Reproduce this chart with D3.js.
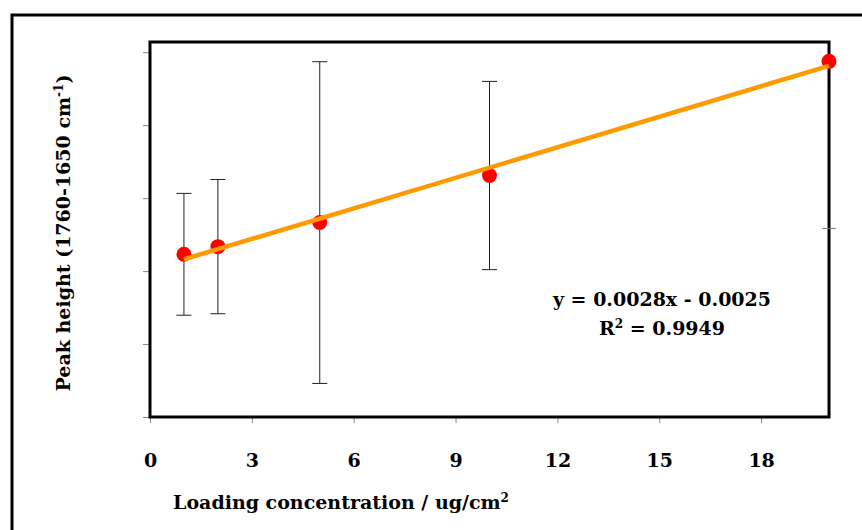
<!DOCTYPE html>
<html>
<head>
<meta charset="utf-8">
<script src="https://cdn.jsdelivr.net/npm/d3@7"></script>
<style>
  body { margin: 0; background: #fff; }
  text { font-family: "DejaVu Serif", serif; font-weight: bold; fill: #000; }
</style>
</head>
<body>
<div id="chart"></div>
<script>
// data
const loading = [1, 2, 5, 10, 20]
const peakHeight = [0.0046, 0.0067, 0.0133, 0.0262, 0.0575]
const peakError = [0.0167, 0.0184, 0.0441, 0.0258, 0]
const xTicks = [0, 3, 6, 9, 12, 15, 18]
const yTicks = [-0.04, -0.02, 0, 0.02, 0.04, 0.06]
const rightTicks = [0.0117]
const equationLines = ["y = 0.0028x - 0.0025", "R", " = 0.9949"]

const margin = { top: 42, left: 150, right: 33, bot: 113 }
const sizing = { width: 862, height: 530 }
const plotW = sizing.width - margin.left - margin.right
const plotH = sizing.height - margin.top - margin.bot
const fontSize = "19px"
const supSize = "12px"

const data = loading.map((d, i) => ({ x: d, y: peakHeight[i], err: peakError[i] }))

const svg = d3.select("#chart").append("svg")
    .attr("width", sizing.width)
    .attr("height", sizing.height)

// outer frame of the figure
svg.append("rect")
    .attr("x", 12).attr("y", 15)
    .attr("width", 900).attr("height", 600)
    .attr("fill", "none").attr("stroke", "#000").attr("stroke-width", 3)

const x = d3.scaleLinear().domain([0, 20]).range([0, plotW])
const y = d3.scaleLinear().domain([-0.04, 0.0628]).range([plotH, 0])

const g = svg.append("g").attr("transform", `translate(${margin.left},${margin.top})`)

// axes (ticks only, y has no labels)
const yAxis = g.append("g")
    .call(d3.axisLeft(y).tickValues(yTicks).tickFormat("").tickSize(7).tickSizeOuter(0))
yAxis.select(".domain").remove()
yAxis.selectAll("line").attr("stroke", "#888")

const xAxis = g.append("g")
    .attr("transform", `translate(0,${plotH})`)
    .call(d3.axisBottom(x).tickValues(xTicks).tickSize(6).tickSizeOuter(0))
xAxis.select(".domain").remove()
xAxis.selectAll("line").attr("stroke", "#888")
xAxis.selectAll("text")
    .attr("y", 50).attr("dy", 0)
    .style("font-family", "DejaVu Serif, serif")
    .style("font-weight", "bold")
    .style("font-size", fontSize)
    .attr("fill", "#000")

// plot frame
g.append("rect")
    .attr("width", plotW).attr("height", plotH)
    .attr("fill", "none").attr("stroke", "#000").attr("stroke-width", 3)

// odd tick on the right side
g.selectAll(".rtick").data(rightTicks).join("line")
    .attr("class", "rtick")
    .attr("x1", plotW - 7).attr("x2", plotW + 7)
    .attr("y1", d => y(d)).attr("y2", d => y(d))
    .attr("stroke", "#777").attr("stroke-width", 1)

// error bars
const bars = g.append("g").attr("stroke", "#222").attr("stroke-width", 1)
data.filter(d => d.err > 0).forEach(d => {
    bars.append("line")
        .attr("x1", x(d.x)).attr("x2", x(d.x))
        .attr("y1", y(d.y - d.err)).attr("y2", y(d.y + d.err))
    ;[d.y - d.err, d.y + d.err].forEach(v => {
        bars.append("line")
            .attr("x1", x(d.x) - 7.5).attr("x2", x(d.x) + 7.5)
            .attr("y1", y(v)).attr("y2", y(v))
    })
})

// points
g.append("g").selectAll("circle").data(data).join("circle")
    .attr("cx", d => x(d.x)).attr("cy", d => y(d.y))
    .attr("r", 7.5).attr("fill", "#ff0000")

// least squares trend line
const mx = d3.mean(data, d => d.x), my = d3.mean(data, d => d.y)
const slope = d3.sum(data, d => (d.x - mx) * (d.y - my)) / d3.sum(data, d => (d.x - mx) ** 2)
const icpt = my - slope * mx
const ext = d3.extent(loading)
g.append("path")
    .datum(ext)
    .attr("d", d3.line().x(d => x(d)).y(d => y(slope * d + icpt)))
    .attr("stroke", "#ff9900").attr("stroke-width", 4.5).attr("fill", "none")

// equation
g.append("text")
    .attr("x", 512).attr("y", 264)
    .attr("text-anchor", "middle")
    .style("font-size", fontSize)
    .text(equationLines[0])
const r2 = g.append("text")
    .attr("x", 512).attr("y", 293)
    .attr("text-anchor", "middle")
    .style("font-size", fontSize)
r2.append("tspan").text(equationLines[1])
r2.append("tspan").attr("dy", -7).style("font-size", supSize).text("2")
r2.append("tspan").attr("dy", 7).text(equationLines[2])

// axis titles
const xt = svg.append("text")
    .attr("x", 341).attr("y", 509)
    .attr("text-anchor", "middle")
    .style("font-size", fontSize)
xt.append("tspan").text("Loading concentration / ug/cm")
xt.append("tspan").attr("dy", -7).style("font-size", supSize).text("2")

const yt = svg.append("text")
    .attr("transform", "translate(70,233) rotate(-90)")
    .attr("text-anchor", "middle")
    .style("font-size", fontSize)
yt.append("tspan").text("Peak height (1760-1650 cm")
yt.append("tspan").attr("dy", -7).style("font-size", supSize).text("-1")
yt.append("tspan").attr("dy", 7).text(")")
</script>
</body>
</html>
